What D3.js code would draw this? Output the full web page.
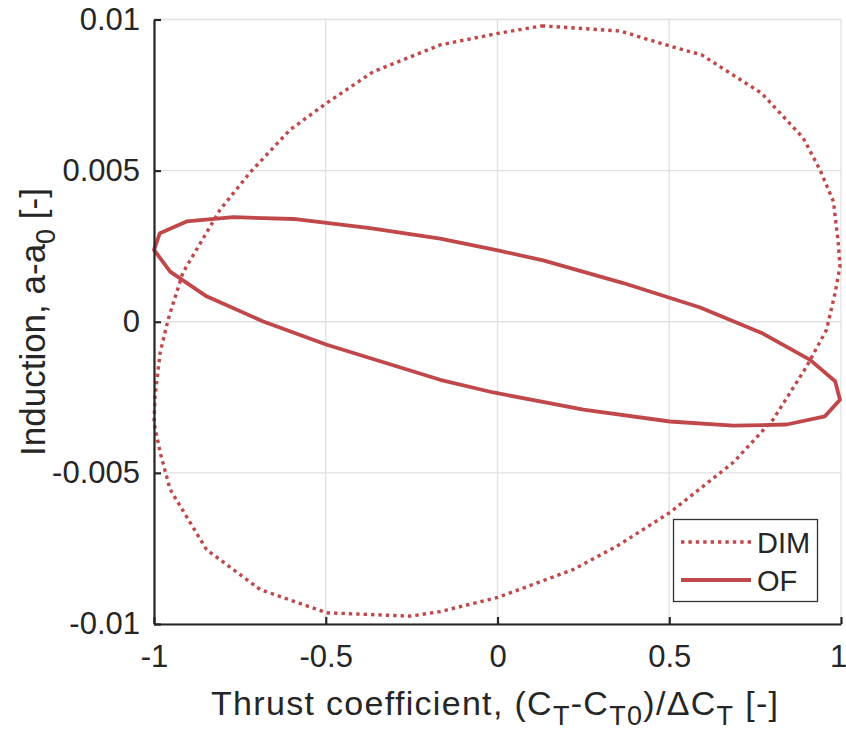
<!DOCTYPE html>
<html>
<head>
<meta charset="utf-8">
<script src="https://cdn.jsdelivr.net/npm/d3@7"></script>
<style>
  html, body { margin: 0; padding: 0; background: #fff; }
  svg text { font-family: "Liberation Sans", Arial, Helvetica, sans-serif; fill: #262626; }
</style>
</head>
<body>
<svg id="chart" width="846" height="735"></svg>
<script>
// Normalised thrust coefficient vs. induction perturbation, one loop per model
const dimThrust = [0.129, 0.357, 0.502, 0.594, 0.769, 0.890, 0.939, 0.978, 0.992, 0.997,
  0.983, 0.958, 0.900, 0.802, 0.686, 0.502, 0.347, 0.220, 0.001, -0.167,
  -0.255, -0.497, -0.691, -0.847, -0.953, -0.982, -1.000, -0.997, -0.982, -0.959,
  -0.916, -0.808, -0.721, -0.604, -0.497, -0.362, -0.167, 0.001];
const dimInduction = [0.00979, 0.00962, 0.00912, 0.00883, 0.00756, 0.00608, 0.00502, 0.00398, 0.00261, 0.00183,
  0.00096, -0.00026, -0.00148, -0.00324, -0.00466, -0.00631, -0.00743, -0.00820, -0.00912, -0.00959,
  -0.00974, -0.00963, -0.00886, -0.00754, -0.00555, -0.00433, -0.00334, -0.00247, -0.00102, 0.00007,
  0.00162, 0.00370, 0.00493, 0.00635, 0.00724, 0.00827, 0.00916, 0.00954];

const ofThrust = [-1.000, -0.983, -0.905, -0.769, -0.594, -0.371, -0.167, 0.001, 0.133, 0.366,
  0.590, 0.769, 0.910, 0.983, 0.997, 0.953, 0.842, 0.686, 0.502, 0.250,
  -0.012, -0.167, -0.497, -0.682, -0.847, -0.953];
const ofInduction = [0.00238, 0.00293, 0.00332, 0.00346, 0.00340, 0.00310, 0.00275, 0.00236, 0.00203, 0.00128,
  0.00047, -0.00037, -0.00126, -0.00197, -0.00258, -0.00313, -0.00340, -0.00344, -0.00330, -0.00291,
  -0.00234, -0.00192, -0.00076, 0.00001, 0.00084, 0.00166];

const xTicks = [-1, -0.5, 0, 0.5, 1];
const xTickLabels = ["-1", "-0.5", "0", "0.5", "1"];
const yTicks = [-0.01, -0.005, 0, 0.005, 0.01];
const yTickLabels = ["-0.01", "-0.005", "0", "0.005", "0.01"];
const seriesNames = ["DIM", "OF"];

const lineColor = "#c0484a";
const axisColor = "#262626";
const gridColor = "#e0e0e0";
const dotPattern = "3.4,4";

const svg = d3.select("#chart");
const x = d3.scaleLinear().domain([-1, 1]).range([154, 841]);
const y = d3.scaleLinear().domain([-0.01, 0.01]).range([624, 19.5]);

// grid (also forms the light top/right border)
const grid = svg.append("g");
grid.selectAll("line.gx").data(xTicks).join("line")
  .attr("x1", d => x(d)).attr("x2", d => x(d))
  .attr("y1", y(-0.01)).attr("y2", y(0.01))
  .attr("stroke", gridColor).attr("stroke-width", 1.3);
grid.selectAll("line.gy").data(yTicks).join("line")
  .attr("x1", x(-1)).attr("x2", x(1))
  .attr("y1", d => y(d)).attr("y2", d => y(d))
  .attr("stroke", gridColor).attr("stroke-width", 1.3);

// curves
const plot = svg.append("g");
const dimPts = dimThrust.map((v, i) => [v, dimInduction[i]]);
const ofPts = ofThrust.map((v, i) => [v, ofInduction[i]]);
const loop = d3.line().x(d => x(d[0])).y(d => y(d[1])).curve(d3.curveLinearClosed);

plot.append("path").attr("d", loop(dimPts))
  .attr("fill", "none").attr("stroke", lineColor).attr("stroke-width", 3.4)
  .attr("stroke-dasharray", dotPattern);
plot.append("path").attr("d", loop(ofPts))
  .attr("fill", "none").attr("stroke", lineColor).attr("stroke-width", 3.8)
  .attr("stroke-linejoin", "round");

// axes with inward ticks
const xAxis = d3.axisBottom(x).tickValues(xTicks).tickFormat((d, i) => xTickLabels[i])
  .tickSizeInner(-7).tickSizeOuter(0).tickPadding(21);
const gx = svg.append("g").attr("transform", `translate(0,${y(-0.01)})`).call(xAxis);
gx.select(".domain").attr("stroke", axisColor).attr("stroke-width", 2.2);
gx.selectAll(".tick line").attr("stroke", axisColor).attr("stroke-width", 2.2);
gx.selectAll(".tick text").attr("font-size", 31).attr("fill", axisColor)
  .attr("font-family", "Liberation Sans, Arial, sans-serif")
  .attr("dx", d => d === 1 ? -3 : 0);

const yAxis = d3.axisLeft(y).tickValues(yTicks).tickFormat((d, i) => yTickLabels[i])
  .tickSizeInner(-7).tickSizeOuter(0).tickPadding(14);
const gy = svg.append("g").attr("transform", `translate(${x(-1)},0)`).call(yAxis);
gy.select(".domain").attr("stroke", axisColor).attr("stroke-width", 2.2);
gy.selectAll(".tick line").attr("stroke", axisColor).attr("stroke-width", 2.2);
gy.selectAll(".tick text").attr("font-size", 31).attr("fill", axisColor)
  .attr("font-family", "Liberation Sans, Arial, sans-serif");

// axis titles
const xl = svg.append("text").attr("x", 211).attr("y", 715)
  .attr("font-size", 34).attr("textLength", 567).attr("lengthAdjust", "spacing");
xl.append("tspan").text("Thrust coefficient, (C");
xl.append("tspan").text("T").attr("font-size", 27).attr("dy", 10);
xl.append("tspan").text("-C").attr("dy", -10);
xl.append("tspan").text("T0").attr("font-size", 27).attr("dy", 10);
xl.append("tspan").text(")/\u0394C").attr("dy", -10);
xl.append("tspan").text("T").attr("font-size", 27).attr("dy", 10);
xl.append("tspan").text(" [-]").attr("dy", -10);

const yl = svg.append("text").attr("transform", "translate(45,322) rotate(-90)")
  .attr("text-anchor", "middle").attr("font-size", 35);
yl.append("tspan").text("Induction, a-a");
yl.append("tspan").text("0").attr("font-size", 27).attr("dy", 10);
yl.append("tspan").text(" [-]").attr("dy", -10);

// legend
const leg = svg.append("g");
leg.append("rect").attr("x", 673.5).attr("y", 519.5).attr("width", 144).attr("height", 82)
  .attr("fill", "#fff").attr("stroke", "#333").attr("stroke-width", 1.3);
const legRows = [
  { name: seriesNames[0], dash: dotPattern, w: 3.4, yy: 542 },
  { name: seriesNames[1], dash: null, w: 3.8, yy: 580 }
];
legRows.forEach(r => {
  leg.append("line").attr("x1", 681).attr("x2", 751).attr("y1", r.yy).attr("y2", r.yy)
    .attr("stroke", lineColor).attr("stroke-width", r.w)
    .attr("stroke-dasharray", r.dash);
  leg.append("text").attr("x", 757).attr("y", r.yy + 11).attr("font-size", 29)
    .attr("fill", "#000").text(r.name);
});
</script>
</body>
</html>
